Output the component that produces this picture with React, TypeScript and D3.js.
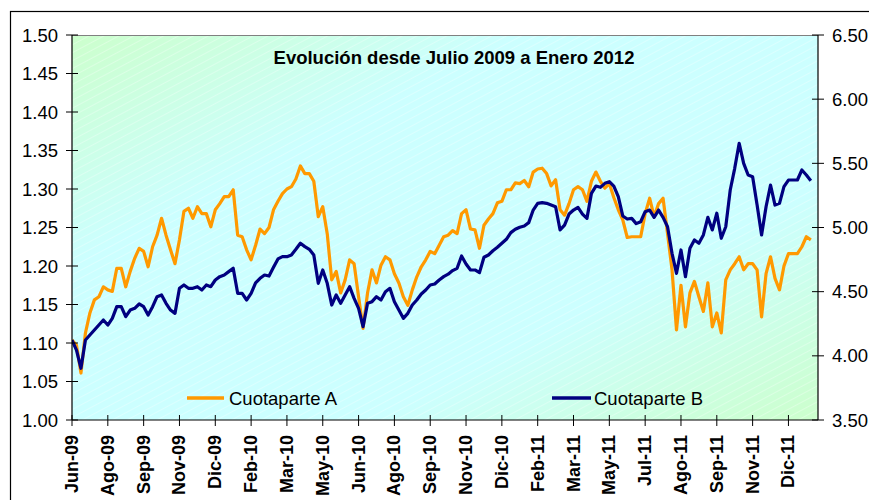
import React from "react";
import * as d3 from "d3";

const title = "Evolución desde Julio 2009 a Enero 2012";
const seriesNames = ["Cuotaparte A", "Cuotaparte B"];
const tickLabels = [
  "Jun-09", "Ago-09", "Sep-09", "Nov-09", "Dic-09", "Feb-10", "Mar-10", "May-10",
  "Jun-10", "Ago-10", "Sep-10", "Nov-10", "Dic-10", "Feb-11", "Mar-11", "May-11",
  "Jul-11", "Ago-11", "Sep-11", "Nov-11", "Dic-11",
];
const pointsPerLabel = 8;
const leftTicks = [1.0, 1.05, 1.1, 1.15, 1.2, 1.25, 1.3, 1.35, 1.4, 1.45, 1.5];
const rightTicks = [3.5, 4.0, 4.5, 5.0, 5.5, 6.0, 6.5];

const cuotaparteA = [
  1.104, 1.097, 1.061, 1.113, 1.139, 1.156, 1.160, 1.173, 1.169, 1.167,
  1.197, 1.197, 1.173, 1.193, 1.210, 1.223, 1.219, 1.199, 1.225, 1.240,
  1.262, 1.240, 1.221, 1.203, 1.234, 1.271, 1.275, 1.262, 1.277, 1.268,
  1.268, 1.251, 1.273, 1.281, 1.290, 1.290, 1.299, 1.240, 1.238, 1.221,
  1.208, 1.227, 1.248, 1.242, 1.250, 1.273, 1.284, 1.294, 1.300, 1.303,
  1.313, 1.330, 1.320, 1.320, 1.310, 1.264, 1.277, 1.242, 1.182, 1.193,
  1.165, 1.182, 1.208, 1.203, 1.160, 1.119, 1.165, 1.195, 1.178, 1.201,
  1.212, 1.208, 1.190, 1.178, 1.160, 1.149, 1.169, 1.186, 1.199, 1.208,
  1.219, 1.216, 1.227, 1.238, 1.240, 1.246, 1.242, 1.268, 1.273, 1.248,
  1.247, 1.223, 1.253, 1.261, 1.268, 1.282, 1.284, 1.299, 1.299, 1.308,
  1.307, 1.311, 1.303, 1.322, 1.326, 1.327, 1.320, 1.304, 1.312, 1.273,
  1.266, 1.281, 1.299, 1.303, 1.299, 1.284, 1.310, 1.322, 1.310, 1.301,
  1.307, 1.289, 1.273, 1.260, 1.237, 1.238, 1.238, 1.238, 1.268, 1.288,
  1.264, 1.281, 1.288, 1.242, 1.195, 1.117, 1.175, 1.121, 1.165, 1.180,
  1.160, 1.141, 1.178, 1.121, 1.139, 1.113, 1.182, 1.195, 1.203, 1.212,
  1.195, 1.203, 1.203, 1.195, 1.134, 1.190, 1.212, 1.184, 1.169, 1.200,
  1.216, 1.216, 1.216, 1.225, 1.238, 1.234,
];

const cuotaparteB = [
  4.123, 4.045, 3.903, 4.123, 4.162, 4.201, 4.240, 4.279, 4.240, 4.292,
  4.383, 4.383, 4.305, 4.357, 4.370, 4.404, 4.383, 4.318, 4.383, 4.461,
  4.474, 4.409, 4.357, 4.331, 4.526, 4.552, 4.526, 4.526, 4.539, 4.513,
  4.552, 4.539, 4.591, 4.617, 4.630, 4.656, 4.682, 4.487, 4.487, 4.435,
  4.487, 4.568, 4.604, 4.630, 4.622, 4.690, 4.755, 4.773, 4.773, 4.786,
  4.830, 4.877, 4.851, 4.830, 4.786, 4.565, 4.669, 4.565, 4.396, 4.474,
  4.409, 4.474, 4.539, 4.448, 4.370, 4.227, 4.409, 4.422, 4.461, 4.435,
  4.500, 4.526, 4.422, 4.357, 4.292, 4.331, 4.396, 4.435, 4.482, 4.513,
  4.552, 4.560, 4.591, 4.617, 4.636, 4.664, 4.682, 4.778, 4.716, 4.669,
  4.669, 4.648, 4.768, 4.786, 4.819, 4.846, 4.877, 4.908, 4.960, 4.986,
  5.002, 5.012, 5.038, 5.136, 5.188, 5.194, 5.188, 5.175, 5.162, 4.981,
  5.019, 5.105, 5.136, 5.157, 5.105, 5.071, 5.266, 5.323, 5.313, 5.344,
  5.357, 5.323, 5.240, 5.090, 5.066, 5.071, 5.030, 5.045, 5.123, 5.136,
  5.079, 5.136, 5.079, 5.006, 4.799, 4.643, 4.825, 4.617, 4.838, 4.903,
  4.877, 4.942, 5.079, 4.981, 5.111, 4.916, 5.006, 5.292, 5.461, 5.656,
  5.500, 5.409, 5.396, 5.175, 4.942, 5.162, 5.331, 5.175, 5.188, 5.318,
  5.370, 5.370, 5.370, 5.448, 5.409, 5.365,
];

const W = 869;
const H = 500;
const plot = { left: 72, right: 818, top: 35, bottom: 420 };
const FONT = "'Liberation Sans', Arial, Helvetica, sans-serif";
const ORANGE = "#FF9900";
const NAVY = "#000080";

export default function App() {
  const x = d3.scaleLinear().domain([0, 166.6]).range([plot.left, plot.right]);
  const yL = d3.scaleLinear().domain([1.0, 1.5]).range([plot.bottom, plot.top]);
  const yR = d3.scaleLinear().domain([3.5, 6.5]).range([plot.bottom, plot.top]);

  const lineA = d3.line<number>().x((_, i) => x(i)).y((d) => yL(d));
  const lineB = d3.line<number>().x((_, i) => x(i)).y((d) => yR(d));

  const pw = plot.right - plot.left;
  const ph = plot.bottom - plot.top;

  return (
    <svg
      width={W}
      height={H}
      style={{ position: "absolute", left: 0, top: 0, background: "#fff" }}
      fontFamily={FONT}
    >
      <defs>
        <linearGradient id="bg" x1="0" y1="0" x2="1" y2="1">
          <stop offset="0" stopColor="#ccffcc" />
          <stop offset="0.3" stopColor="#ccffff" />
          <stop offset="0.7" stopColor="#ccffff" />
          <stop offset="1" stopColor="#ccffcc" />
        </linearGradient>
        <pattern
          id="stripes"
          width="7"
          height="7"
          patternUnits="userSpaceOnUse"
          patternTransform="rotate(-28)"
        >
          <line x1="0" y1="3.5" x2="7" y2="3.5" stroke="#ffffff" strokeWidth="1" strokeOpacity="0.3" />
        </pattern>
        <clipPath id="plotclip">
          <rect x={plot.left} y={plot.top} width={pw} height={ph} />
        </clipPath>
      </defs>

      <rect x={10.5} y={11.5} width={900} height={520} fill="#fff" stroke="#000" strokeWidth={1.2} />

      <rect x={plot.left} y={plot.top} width={pw} height={ph} fill="url(#bg)" />
      <rect x={plot.left} y={plot.top} width={pw} height={ph} fill="url(#stripes)" />
      <line x1={plot.left} x2={plot.right} y1={plot.top + 0.5} y2={plot.top + 0.5} stroke="#808080" strokeWidth={1} />

      <text x={454} y={64} textAnchor="middle" fontWeight="bold" fontSize={18.5} fill="#000">
        {title}
      </text>

      <g clipPath="url(#plotclip)">
        <path d={lineA(cuotaparteA) || ""} fill="none" stroke={ORANGE} strokeWidth={3.2} strokeLinejoin="round" />
        <path d={lineB(cuotaparteB) || ""} fill="none" stroke={NAVY} strokeWidth={3.2} strokeLinejoin="round" />
      </g>

      <line x1={plot.left} x2={plot.left} y1={plot.top} y2={plot.bottom} stroke="#000" strokeWidth={1.2} />
      <line x1={plot.right} x2={plot.right} y1={plot.top} y2={plot.bottom} stroke="#000" strokeWidth={1.2} />
      <line x1={plot.left} x2={plot.right} y1={plot.bottom} y2={plot.bottom} stroke="#000" strokeWidth={1.2} />

      {leftTicks.map((t) => (
        <g key={"l" + t}>
          <line x1={plot.left - 6} x2={plot.left + 6} y1={yL(t)} y2={yL(t)} stroke="#000" strokeWidth={1} />
          <text x={58} y={yL(t)} dy="0.36em" textAnchor="end" fontSize={18.5} fill="#000">
            {t.toFixed(2)}
          </text>
        </g>
      ))}

      {rightTicks.map((t) => (
        <g key={"r" + t}>
          <line x1={plot.right - 6} x2={plot.right + 6} y1={yR(t)} y2={yR(t)} stroke="#000" strokeWidth={1} />
          <text x={832} y={yR(t)} dy="0.36em" textAnchor="start" fontSize={18.5} fill="#000">
            {t.toFixed(2)}
          </text>
        </g>
      ))}

      {tickLabels.map((lab, k) => {
        const tx = x(k * pointsPerLabel);
        return (
          <g key={lab}>
            <line x1={tx} x2={tx} y1={plot.bottom - 5} y2={plot.bottom + 6} stroke="#000" strokeWidth={1} />
            <text
              transform={`translate(${tx},435) rotate(-90)`}
              textAnchor="end"
              dominantBaseline="central"
              fontWeight="bold"
              fontSize={18}
              fill="#000"
            >
              {lab}
            </text>
          </g>
        );
      })}

      <line x1={187} x2={224} y1={398} y2={398} stroke={ORANGE} strokeWidth={3.5} />
      <text x={229} y={405} fontSize={18.5} fill="#000">{seriesNames[0]}</text>
      <line x1={552} x2={591} y1={398} y2={398} stroke={NAVY} strokeWidth={3.5} />
      <text x={594} y={405} fontSize={18.5} fill="#000">{seriesNames[1]}</text>
    </svg>
  );
}
